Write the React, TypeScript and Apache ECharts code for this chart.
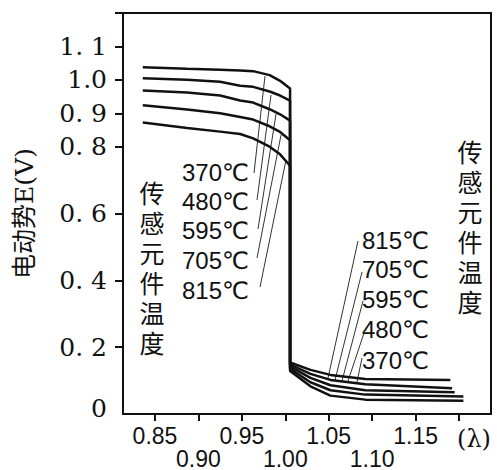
import React, { useEffect, useRef } from "react";
import * as echarts from "echarts";

// Temperatures of the sensing element
const temps = ["370℃", "480℃", "595℃", "705℃", "815℃"];

// Rich side (λ < 1): shared x positions
const highX = [0.836, 0.887, 0.925, 0.948, 0.963, 0.982, 0.994, 1.0055];
const highE370 = [1.038, 1.033, 1.03, 1.028, 1.026, 1.014, 0.997, 0.974];
const highE480 = [1.005, 1.0, 0.994, 0.982, 0.979, 0.965, 0.953, 0.938];
const highE595 = [0.968, 0.962, 0.953, 0.938, 0.932, 0.912, 0.897, 0.878];
const highE705 = [0.924, 0.911, 0.9, 0.889, 0.881, 0.861, 0.844, 0.819];
const highE815 = [0.872, 0.856, 0.845, 0.838, 0.825, 0.8, 0.777, 0.743];

// Lean side (λ > 1)
const lowX = [1.0055, 1.029, 1.052, 1.092];
const lowEndX = [1.19, 1.192, 1.195, 1.205, 1.205];
const lowE370 = [0.154, 0.132, 0.117, 0.105, 0.102];
const lowE480 = [0.148, 0.12, 0.102, 0.089, 0.077];
const lowE595 = [0.142, 0.108, 0.086, 0.071, 0.065];
const lowE705 = [0.135, 0.095, 0.071, 0.058, 0.052];
const lowE815 = [0.129, 0.083, 0.055, 0.043, 0.04];

const highSets = [highE370, highE480, highE595, highE705, highE815];
const lowSets = [lowE370, lowE480, lowE595, lowE705, lowE815];

// Axis ticks / labels
const xTicks = [0.85, 0.9, 0.95, 1.0, 1.05, 1.1, 1.15, 1.2];
const xLabelsUpper = [0.85, 0.95, 1.05, 1.15];
const xLabelsLower = [0.9, 1.0, 1.1];
const yTicks = [0.2, 0.4, 0.6, 0.8, 0.9, 1.0, 1.1, 1.2];
const yLabels = [0, 0.2, 0.4, 0.6, 0.8, 0.9, 1.0, 1.1];

const vChars = ["传", "感", "元", "件", "温", "度"];

const LINE = "#111";
const X_MIN = 0.8132;
const X_MAX = 1.2368;

export default function App() {
  const ref = useRef<HTMLDivElement>(null);

  useEffect(() => {
    if (!ref.current) return;
    const chart = echarts.init(ref.current, null, { renderer: "svg" });

    const series: any[] = temps.map((t, i) => {
      const pts: number[][] = [];
      highX.forEach((x, j) => pts.push([x, highSets[i][j]]));
      const lx = [...lowX, lowEndX[i]];
      lx.forEach((x, j) => pts.push([x, lowSets[i][j]]));
      return {
        name: t,
        type: "line",
        xAxisIndex: 0,
        data: pts,
        showSymbol: false,
        symbol: "none",
        lineStyle: { color: LINE, width: 2.5 },
        z: 3,
      };
    });

    const labelFont = "'Liberation Sans', 'DejaVu Sans', 'Noto Sans CJK SC', sans-serif";
    const vFont = "'DejaVu Sans', 'Noto Sans CJK SC', sans-serif";

    const leftLabelY = [172, 201, 230, 260, 290];
    const rightLabelY = [360, 329, 299, 269, 240];

    const upperLeaders = [
      [254, 173, 265, 76],
      [257, 200, 271, 95],
      [258, 229, 276, 114],
      [257, 258, 281, 135],
      [260, 287, 286, 160],
    ];
    const lowerLeaders = [
      [362, 358, 357, 382],
      [365, 330, 348, 381],
      [363, 301, 342, 381],
      [362, 272, 335, 380],
      [358, 241, 328, 378],
    ];

    const graphics: any[] = [];
    temps.forEach((t, i) => {
      graphics.push({
        type: "text",
        x: 182,
        y: leftLabelY[i],
        style: {
          text: t,
          fontSize: 24,
          fontFamily: labelFont,
          fill: LINE,
          verticalAlign: "middle",
        },
      });
      graphics.push({
        type: "text",
        x: 362,
        y: rightLabelY[i],
        style: {
          text: t,
          fontSize: 24,
          fontFamily: labelFont,
          fill: LINE,
          verticalAlign: "middle",
        },
      });
      const u = upperLeaders[i];
      graphics.push({
        type: "line",
        shape: { x1: u[0], y1: u[1], x2: u[2], y2: u[3] },
        style: { stroke: "#333", lineWidth: 1 },
      });
      const l = lowerLeaders[i];
      graphics.push({
        type: "line",
        shape: { x1: l[0], y1: l[1], x2: l[2], y2: l[3] },
        style: { stroke: "#333", lineWidth: 1 },
      });
    });
    // vertical captions, one glyph per line
    vChars.forEach((c, k) => {
      graphics.push({
        type: "text",
        x: 152,
        y: 194 + k * 30,
        style: {
          text: c,
          fontSize: 25,
          fontFamily: vFont,
          fill: LINE,
          align: "center",
          verticalAlign: "middle",
        },
      });
      graphics.push({
        type: "text",
        x: 470,
        y: 153 + k * 30,
        style: {
          text: c,
          fontSize: 25,
          fontFamily: vFont,
          fill: LINE,
          align: "center",
          verticalAlign: "middle",
        },
      });
    });
    graphics.push({
      type: "text",
      x: 474,
      y: 439,
      style: {
        text: "(λ)",
        fontSize: 24,
        fontFamily: "'DejaVu Serif', serif",
        fill: LINE,
        align: "center",
        verticalAlign: "middle",
      },
    });

    const xLabelStyle = {
      color: LINE,
      fontSize: 23,
      fontFamily: labelFont,
      showMinLabel: true,
      showMaxLabel: true,
      formatter: (v: number) => v.toFixed(2),
    };

    chart.setOption({
      animation: false,
      backgroundColor: "#fff",
      grid: {
        left: 123,
        top: 13,
        right: 6,
        bottom: 53,
        show: true,
        borderColor: LINE,
        borderWidth: 2,
        containLabel: false,
      },
      xAxis: [
        {
          type: "value",
          min: X_MIN,
          max: X_MAX,
          position: "bottom",
          splitLine: { show: false },
          axisLine: { lineStyle: { color: LINE, width: 2 } },
          axisTick: {
            customValues: xTicks,
            length: 7,
            lineStyle: { color: LINE, width: 2 },
          },
          axisLabel: { ...xLabelStyle, customValues: xLabelsUpper, margin: 10 },
        },
        {
          type: "value",
          min: X_MIN,
          max: X_MAX,
          position: "bottom",
          offset: 0,
          splitLine: { show: false },
          axisLine: { show: false },
          axisTick: { show: false },
          axisLabel: { ...xLabelStyle, customValues: xLabelsLower, margin: 33 },
        },
      ],
      yAxis: {
        type: "value",
        min: 0,
        max: 1.2,
        name: "电动势E(V)",
        nameLocation: "middle",
        nameGap: 86,
        nameTextStyle: {
          fontSize: 25,
          color: LINE,
          fontFamily: "'DejaVu Serif', 'Noto Sans CJK SC', serif",
        },
        splitLine: { show: false },
        axisLine: { lineStyle: { color: LINE, width: 2 } },
        axisTick: {
          customValues: yTicks,
          length: 8,
          lineStyle: { color: LINE, width: 2 },
        },
        axisLabel: {
          customValues: yLabels,
          showMinLabel: true,
          showMaxLabel: true,
          color: LINE,
          fontSize: 25,
          fontFamily: "'DejaVu Serif', serif",
          margin: 16,
          formatter: (v: number) => {
            if (Math.abs(v) < 1e-9) return "{z|0}";
            if (Math.abs(v - 1.0) < 1e-9) return "1.0";
            const s = v.toFixed(1);
            return s.replace(".", ". ");
          },
          rich: {
            z: {
              fontSize: 25,
              fontFamily: "'DejaVu Serif', serif",
              color: LINE,
              padding: [0, 0, 12, 0],
            },
          },
        },
      },
      series,
      graphic: graphics,
    });

    return () => chart.dispose();
  }, []);

  return (
    <div
      ref={ref}
      style={{ position: "fixed", left: 0, top: 0, width: 497, height: 470 }}
    />
  );
}
